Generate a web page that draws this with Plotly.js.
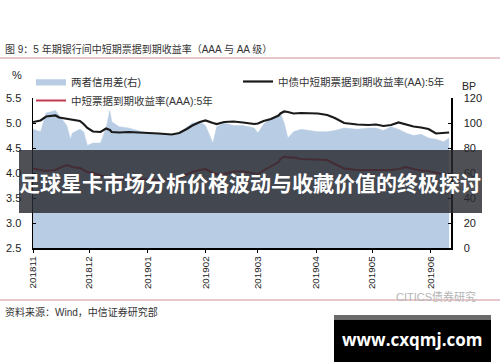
<!DOCTYPE html>
<html>
<head>
<meta charset="utf-8">
<script src="https://cdn.plot.ly/plotly-3.0.1.min.js"></script>
<style>html,body{margin:0;padding:0;background:#fff;}#chart{width:500px;height:362px;}</style>
</head>
<body>
<div id="chart"></div>
<script>
const dates = ['2018-11-01','2018-11-05','2018-11-08','2018-11-13','2018-11-15','2018-11-19','2018-11-21','2018-11-22','2018-11-26','2018-11-28','2018-11-30','2018-12-03','2018-12-07','2018-12-10','2018-12-12','2018-12-13','2018-12-17','2018-12-22','2018-12-29','2019-01-02','2019-01-07','2019-01-14','2019-01-18','2019-01-22','2019-01-25','2019-01-29','2019-02-01','2019-02-05','2019-02-07','2019-02-11','2019-02-16','2019-02-21','2019-02-27','2019-03-01','2019-03-04','2019-03-08','2019-03-12','2019-03-13','2019-03-15','2019-03-17','2019-03-20','2019-03-24','2019-03-28','2019-04-02','2019-04-07','2019-04-11','2019-04-16','2019-04-23','2019-04-29','2019-05-03','2019-05-07','2019-05-11','2019-05-15','2019-05-19','2019-05-23','2019-05-27','2019-05-31','2019-06-04','2019-06-08','2019-06-11'];
const yieldAA = [5.02,5.05,5.13,5.15,5.11,5.09,5.08,5.07,5.04,4.98,4.90,4.83,4.82,4.89,4.86,4.82,4.81,4.82,4.81,4.80,4.79,4.77,4.80,4.88,4.95,5.02,5.05,5.00,4.98,5.02,5.03,5.01,4.98,4.99,5.04,5.08,5.15,5.19,5.23,5.22,5.19,5.20,5.19,5.19,5.16,5.10,5.00,4.97,4.96,4.97,4.94,4.96,5.01,4.97,4.93,4.91,4.88,4.79,4.80,4.81];
const yieldAAA = [4.09,4.07,4.04,4.06,4.10,4.16,4.14,4.12,4.10,4.06,4.02,4.00,3.96,3.92,3.90,3.88,3.87,3.88,3.88,3.87,3.86,3.86,3.90,3.97,4.02,4.06,4.08,4.00,3.97,3.98,4.03,4.03,3.99,3.98,4.05,4.14,4.22,4.28,4.33,4.31,4.31,4.28,4.27,4.26,4.26,4.18,4.09,4.06,4.06,4.06,4.05,4.06,4.08,4.12,4.08,4.05,4.04,4.00,3.97,3.96];
const spreadBP = [95,93,108,110,106,98,87,92,95,93,82,84,84,96,110,101,97,96,93,92,92,90,92,97,100,101,98,84,97,100,98,98,96,92,99,104,106,108,100,88,93,95,94,93,93,94,96,95,96,96,94,97,95,92,90,91,88,87,85,88];
const monthTicks = ['2018-11-01','2018-12-01','2019-01-01','2019-02-01','2019-03-01','2019-04-01','2019-05-01','2019-06-01'];
const monthLabels = ['201811','201812','201901','201902','201903','201904','201905','201906'];
const names = ['两者信用差(右)','中债中短期票据到期收益率(AA):5年','中短票据到期收益率(AAA):5年'];

const W = 500, H = 362, L = 33, R = 451, T = 98, B = 248;
const px = x => (x - L) / (R - L);
const py = y => (B - y) / (B - T);
const cjk = 'Liberation Sans, Noto Sans CJK SC, sans-serif';

const traces = [
  {x: dates, y: spreadBP, name: names[0], type: 'scatter', mode: 'lines', fill: 'tozeroy',
   fillcolor: '#b8cce4', line: {color: '#b8cce4', width: 0.5}, yaxis: 'y', hoverinfo: 'skip'},
  {x: dates, y: yieldAA, name: names[1], type: 'scatter', mode: 'lines',
   line: {color: '#1a1a1a', width: 2.2}, yaxis: 'y2'},
  {x: dates, y: yieldAAA, name: names[2], type: 'scatter', mode: 'lines',
   line: {color: '#c0394f', width: 2}, yaxis: 'y2'}
];

const axisFont = {family: 'Liberation Sans, Arial, sans-serif', size: 11, color: '#222'};

const layout = {
  width: W, height: H,
  margin: {l: L, r: W - R, t: T, b: H - B, pad: 0},
  paper_bgcolor: '#fff', plot_bgcolor: '#fff',
  showlegend: true,
  legend: {orientation: 'h', x: px(31), xanchor: 'left', y: py(67), yanchor: 'top',
    entrywidth: 162, entrywidthmode: 'pixels', itemwidth: 30, tracegroupgap: 0,
    bgcolor: 'rgba(0,0,0,0)', font: {family: cjk, size: 10.5, color: '#333'}},
  xaxis: {type: 'date', range: ['2018-11-01', '2019-06-12'], tickvals: monthTicks, ticktext: monthLabels,
    tickangle: -90, ticks: 'outside', ticklen: 3, tickcolor: '#000', showline: true, linecolor: '#000',
    linewidth: 1.5, showgrid: false, zeroline: false, tickfont: {family: axisFont.family, size: 9.8, color: '#222'}},
  yaxis: {side: 'right', range: [0, 120], dtick: 20, ticks: 'inside', ticklen: 3, tickcolor: '#000',
    showline: true, linecolor: '#000', linewidth: 1.5, showgrid: false, zeroline: false,
    ticklabelstandoff: 9, tickfont: axisFont},
  yaxis2: {overlaying: 'y', side: 'left', range: [2.5, 5.5], dtick: 0.5, tickformat: '.1f', ticks: 'inside',
    ticklen: 3, tickcolor: '#000', showline: true, linecolor: '#000', linewidth: 1.5, showgrid: false,
    zeroline: false, ticklabelstandoff: 8, tickfont: axisFont},
  shapes: [
    {type: 'line', xref: 'paper', yref: 'paper', x0: px(0), x1: px(500), y0: py(58), y1: py(58),
     line: {color: '#cf8f97', width: 1}},
    {type: 'line', xref: 'paper', yref: 'paper', x0: px(0), x1: px(500), y0: py(300), y1: py(300),
     line: {color: '#cf8f97', width: 1}},
    {type: 'rect', xref: 'paper', yref: 'paper', x0: px(19), x1: px(482), y0: py(150), y1: py(213),
     fillcolor: 'rgba(40,42,48,0.82)', line: {width: 0}, layer: 'above'},
    {type: 'rect', xref: 'paper', yref: 'paper', x0: px(334), x1: px(491), y0: py(315), y1: py(320),
     fillcolor: '#6b6b6b', line: {width: 0}, layer: 'above'},
    {type: 'rect', xref: 'paper', yref: 'paper', x0: px(334), x1: px(491), y0: py(320), y1: py(362),
     fillcolor: '#000', line: {width: 0}, layer: 'above'}
  ],
  annotations: [
    {xref: 'paper', yref: 'paper', x: px(3), y: py(49), xanchor: 'left', yanchor: 'middle', showarrow: false,
     text: '图 9：5 年期银行间中短期票据到期收益率（AAA 与 AA 级）', font: {family: cjk, size: 10, color: '#333'}},
    {xref: 'paper', yref: 'paper', x: px(17), y: py(75), xanchor: 'center', yanchor: 'middle', showarrow: false,
     text: '%', font: axisFont},
    {xref: 'paper', yref: 'paper', x: px(469), y: py(86), xanchor: 'center', yanchor: 'middle', showarrow: false,
     text: 'BP', font: {family: axisFont.family, size: 10.5, color: '#222'}},
    {xref: 'paper', yref: 'paper', x: px(3), y: py(312), xanchor: 'left', yanchor: 'middle', showarrow: false,
     text: '资料来源：Wind，中信证券研究部', font: {family: cjk, size: 10, color: '#333'}},
    {xref: 'paper', yref: 'paper', x: px(436), y: py(296), xanchor: 'center', yanchor: 'middle', showarrow: false,
     text: 'CITICS债券研究', font: {family: cjk, size: 11, color: '#b5b5b5'}},
    {xref: 'paper', yref: 'paper', x: px(250), y: py(182), xanchor: 'center', yanchor: 'middle', showarrow: false,
     text: '<b>足球星卡市场分析价格波动与收藏价值的终极探讨</b>',
     font: {family: 'Noto Sans CJK SC, sans-serif', size: 21, color: '#fff'}},
    {xref: 'paper', yref: 'paper', x: px(412), y: py(339), xanchor: 'center', yanchor: 'middle', showarrow: false,
     text: '<b>www.cxqmj.com</b>', font: {family: 'Open Sans, DejaVu Sans, sans-serif', size: 17, color: '#fff'}}
  ]
};

Plotly.newPlot('chart', traces, layout, {displayModeBar: false, staticPlot: true});
</script>
</body>
</html>
